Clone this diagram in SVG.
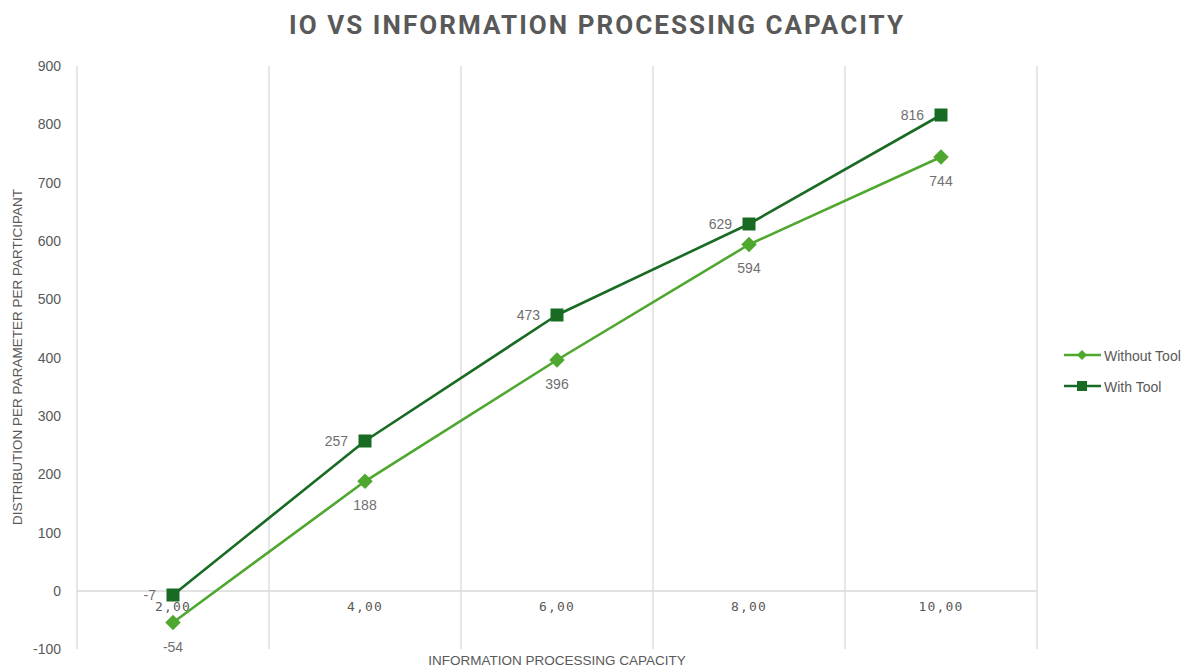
<svg xmlns="http://www.w3.org/2000/svg" width="1193" height="669" viewBox="0 0 1193 669">
  <style>
    .grid { stroke: #d9d9d9; stroke-width: 1.3; fill: none; }
    .axis-num { font-family: "Liberation Sans", Arial, sans-serif; font-size: 14px; fill: #595959; text-anchor: end; }
    .cat { font-family: "DejaVu Sans Mono", "Liberation Mono", monospace; font-size: 13px; letter-spacing: 1.2px; fill: #595959; text-anchor: middle; }
    .axis-title { font-family: "Liberation Sans", Arial, sans-serif; font-size: 13.5px; fill: #595959; text-anchor: middle; }
    .title { font-family: Roboto, "Liberation Sans", sans-serif; font-weight: bold; font-size: 26px; fill: #595959; text-anchor: middle; }
    .lbl { font-family: "Liberation Sans", Arial, sans-serif; font-size: 14px; fill: #6f6f6f; }
    .lbl-left { text-anchor: end; }
    .lbl-below { text-anchor: middle; }
    .legend { font-family: "Liberation Sans", Arial, sans-serif; font-size: 14px; fill: #595959; }
    .s-without { stroke: #4ea72e; stroke-width: 2.6; fill: none; stroke-linejoin: round; }
    .s-with { stroke: #196b24; stroke-width: 2.6; fill: none; stroke-linejoin: round; }
  </style>
  <defs>
    <rect id="sq" x="-6.5" y="-6.5" width="13" height="13" fill="#196b24"/>
    <rect id="dia" x="-5.5" y="-5.5" width="11" height="11" fill="#4ea72e" transform="rotate(45)"/>
  </defs>

  <rect width="1193" height="669" fill="#ffffff"/>

  <!-- Title -->
  <text class="title" x="596" y="34" textLength="614" lengthAdjust="spacing">IO VS INFORMATION PROCESSING CAPACITY</text>

  <!-- Grid: vertical category separators and the zero line -->
  <g id="grid">
    <line class="grid" x1="77" y1="66" x2="77" y2="649"/>
    <line class="grid" x1="269" y1="66" x2="269" y2="649"/>
    <line class="grid" x1="461" y1="66" x2="461" y2="649"/>
    <line class="grid" x1="653" y1="66" x2="653" y2="649"/>
    <line class="grid" x1="845" y1="66" x2="845" y2="649"/>
    <line class="grid" x1="1037" y1="66" x2="1037" y2="649"/>
    <line class="grid" x1="77" y1="591" x2="1037" y2="591"/>
  </g>

  <!-- Value axis -->
  <g id="y-axis">
    <text class="axis-num" x="61" y="71">900</text>
    <text class="axis-num" x="61" y="129">800</text>
    <text class="axis-num" x="61" y="188">700</text>
    <text class="axis-num" x="61" y="246">600</text>
    <text class="axis-num" x="61" y="304">500</text>
    <text class="axis-num" x="61" y="363">400</text>
    <text class="axis-num" x="61" y="421">300</text>
    <text class="axis-num" x="61" y="479">200</text>
    <text class="axis-num" x="61" y="538">100</text>
    <text class="axis-num" x="61" y="596">0</text>
    <text class="axis-num" x="61" y="654">-100</text>
    <text class="axis-title" transform="translate(22 357) rotate(-90)">DISTRIBUTION PER PARAMETER PER PARTICIPANT</text>
  </g>

  <!-- Category axis -->
  <g id="x-axis">
    <text class="cat" x="173" y="611">2,00</text>
    <text class="cat" x="365" y="611">4,00</text>
    <text class="cat" x="557" y="611">6,00</text>
    <text class="cat" x="749" y="611">8,00</text>
    <text class="cat" x="941" y="611">10,00</text>
    <text class="axis-title" x="557" y="665">INFORMATION PROCESSING CAPACITY</text>
  </g>

  <!-- Series lines -->
  <g id="connectors">
    <polyline class="s-without" points="173,622.5 365,481.3 557,360 749,244.5 941,157"/>
    <polyline class="s-with" points="173,595 365,441 557,315 749,224 941,115"/>
  </g>

  <!-- Without Tool series -->
  <g id="series-without-tool">
    <use href="#dia" x="173" y="622.5"/>
    <use href="#dia" x="365" y="481.3"/>
    <use href="#dia" x="557" y="360"/>
    <use href="#dia" x="749" y="244.5"/>
    <use href="#dia" x="941" y="157"/>
    <text class="lbl lbl-below" x="173" y="652">-54</text>
    <text class="lbl lbl-below" x="365" y="510">188</text>
    <text class="lbl lbl-below" x="557" y="389">396</text>
    <text class="lbl lbl-below" x="749" y="273">594</text>
    <text class="lbl lbl-below" x="941" y="186">744</text>
  </g>

  <!-- With Tool series -->
  <g id="series-with-tool">
    <use href="#sq" x="173" y="595"/>
    <use href="#sq" x="365" y="441"/>
    <use href="#sq" x="557" y="315"/>
    <use href="#sq" x="749" y="224"/>
    <use href="#sq" x="941" y="115"/>
    <text class="lbl lbl-left" x="156" y="600">-7</text>
    <text class="lbl lbl-left" x="348" y="446">257</text>
    <text class="lbl lbl-left" x="540" y="320">473</text>
    <text class="lbl lbl-left" x="732" y="229">629</text>
    <text class="lbl lbl-left" x="924" y="120">816</text>
  </g>

  <!-- Legend -->
  <g id="legend">
    <g id="legend-without-tool">
      <line class="s-without" x1="1064" y1="355" x2="1101" y2="355"/>
      <rect x="-3.5" y="-3.5" width="7" height="7" fill="#4ea72e" transform="translate(1082 355) rotate(45)"/>
      <text class="legend" x="1104" y="361">Without Tool</text>
    </g>
    <g id="legend-with-tool">
      <line class="s-with" x1="1064" y1="386" x2="1101" y2="386"/>
      <rect x="1077" y="381" width="10" height="10" fill="#196b24"/>
      <text class="legend" x="1104" y="392">With Tool</text>
    </g>
  </g>
</svg>
